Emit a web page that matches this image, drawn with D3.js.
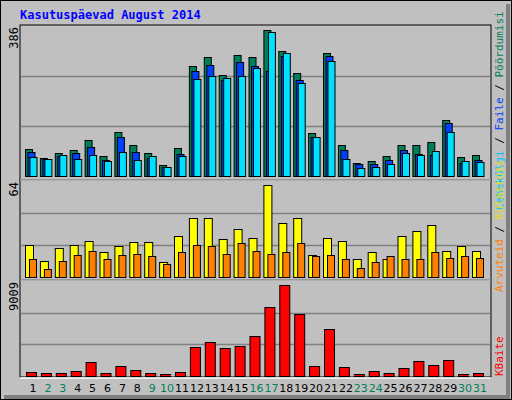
<!DOCTYPE html>
<html><head><meta charset="utf-8">
<script src="https://cdn.jsdelivr.net/npm/d3@7"></script>
<style>body{margin:0;background:#fff}</style>
</head><body>
<svg id="chart" width="512" height="400"></svg>
<script>
const days = d3.range(1, 32).map(String);
const weekend = ["2","3","9","10","16","17","23","24","30","31"];
// top panel: Pöördumisi (hits), Faile (files), Lehekülgi (pages)
const hits  = [70,47,59,67,92,52,113,80,59,29,72,283,306,260,311,306,375,321,266,110,316,80,34,39,52,80,80,87,143,49,54];
const files = [62,45,51,59,75,42,100,62,47,22,57,269,286,248,293,283,271,310,248,100,309,67,31,31,42,67,57,54,136,34,42];
const pages = [49,44,53,44,54,39,62,42,52,24,52,250,258,253,258,278,370,316,240,101,296,44,21,24,31,59,54,64,113,39,36];
// middle panel: Külastusi (visits), Arvuteid (visitors)
const visits   = [21.4,10.8,19.4,21.4,24.1,16.8,20.7,23.4,23.4,10.2,27.4,39.3,39.3,25.4,32,26,61.1,36,39.3,14.8,26,24.1,12.1,16.8,12.1,27.4,30.7,34.6,17.4,20.7,17.4];
const visitors = [12.1,5.5,10.8,14.8,17.4,12.1,14.8,15.4,14.1,8.8,16.8,21.4,20.7,15.4,22.7,17.4,15.4,16.8,22.7,14.1,14.8,12.1,6.2,10.2,14.1,12.1,12.1,16.8,12.8,14.1,12.8];
// bottom panel: KBaite
const kbytes = [411,316,316,506,1359,316,980,601,316,221,411,2781,3255,2686,2876,3824,6573,8658,5909,980,4487,885,221,506,316,790,1454,1074,1548,221,316];

const svg = d3.select("#chart");
const gray = "#c0c0c0";
svg.append("rect").attr("x",0.5).attr("y",0.5).attr("width",511).attr("height",399).attr("fill",gray).attr("stroke","#000");
svg.append("path").attr("d","M508,4V397H4").attr("fill","none").attr("stroke","#808080").attr("stroke-width",4);

svg.append("text").attr("x",20).attr("y",19).text("Kasutuspäevad August 2014")
  .attr("font-family","DejaVu Sans Mono").attr("font-weight","bold").attr("font-size",12).attr("fill","#0000ff");

const x = d3.scaleBand().domain(days).range([25, 25 + 14.9 * 31]);
const left = 20, right = 491;

const panels = [
  {top: 25, bottom: 180, base: 176, max: 386, label: "386"},
  {top: 180, bottom: 280, base: 277, max: 64, label: "64"},
  {top: 280, bottom: 377, base: 376, max: 9009, label: "9009"}
];
panels.forEach(p => {
  p.y = d3.scaleLinear().domain([0, p.max]).range([p.base, p.top + 1]);
  svg.append("rect").attr("x",left).attr("y",p.top).attr("width",right-left).attr("height",p.bottom-p.top)
    .attr("fill",gray).attr("stroke","#000");
  [1/3, 2/3].forEach(f => {
    const yy = Math.round(p.y(p.max * f)) + 0.5;
    svg.append("line").attr("x1",left+1).attr("x2",right-1).attr("y1",yy).attr("y2",yy).attr("stroke","#808080").attr("stroke-width",1.5);
  });
  svg.append("text").attr("transform",`translate(18,${p.top+2}) rotate(-90)`).attr("text-anchor","end")
    .attr("font-family","DejaVu Sans Mono").attr("font-size",12).attr("fill","#000").text(p.label);
});
svg.append("line").attr("x1",left).attr("x2",right).attr("y1",378).attr("y2",378).attr("stroke","#fff").attr("stroke-width",1.5);
[180,280].forEach(yy => svg.append("line").attr("x1",left).attr("x2",right).attr("y1",yy).attr("y2",yy).attr("stroke","#fff").attr("stroke-width",1));

function bars(data, p, dx, w, color) {
  svg.append("g").selectAll("rect").data(data).join("rect")
    .attr("x", (d, i) => x(days[i]) + dx + 0.5)
    .attr("y", d => Math.round(p.y(d)) + 0.5)
    .attr("width", w)
    .attr("height", d => Math.max(0, Math.round(p.base - p.y(d))))
    .attr("fill", color).attr("stroke", "#000");
}
bars(hits, panels[0], 0, 7, "#00805a");
bars(files, panels[0], 2.5, 7, "#0040ff");
bars(pages, panels[0], 4.5, 7, "#00e0ff");
bars(visits, panels[1], 0, 8, "#ffff00");
bars(visitors, panels[1], 4, 7, "#ff8000");
bars(kbytes, panels[2], 1, 10, "#ff0000");

svg.append("g").selectAll("text").data(days).join("text")
  .attr("x", d => x(d) + 8).attr("y", 392).attr("text-anchor","middle")
  .attr("font-family","DejaVu Sans").attr("font-size",11)
  .attr("fill", d => weekend.includes(d) ? "#00805a" : "#000").text(d => d);

function sideLabel(parts, yStart) {
  const t = svg.append("text").attr("transform",`translate(503,${yStart}) rotate(-90)`)
    .attr("font-family","DejaVu Sans Mono").attr("font-size",11);
  parts.forEach(([s, c]) => t.append("tspan").attr("fill", c).text(s));
}
sideLabel([["Lehekülgi","#00c0ff"],[" / ","#000"],["Faile","#0040ff"],[" / ","#000"],["Pöördumisi","#00805a"]], 210);
sideLabel([["Arvuteid","#ff8000"],[" / ","#000"],["Külastusi","#e0e000"]], 292);
sideLabel([["KBaite","#ff0000"]], 376);
</script>
</body></html>
